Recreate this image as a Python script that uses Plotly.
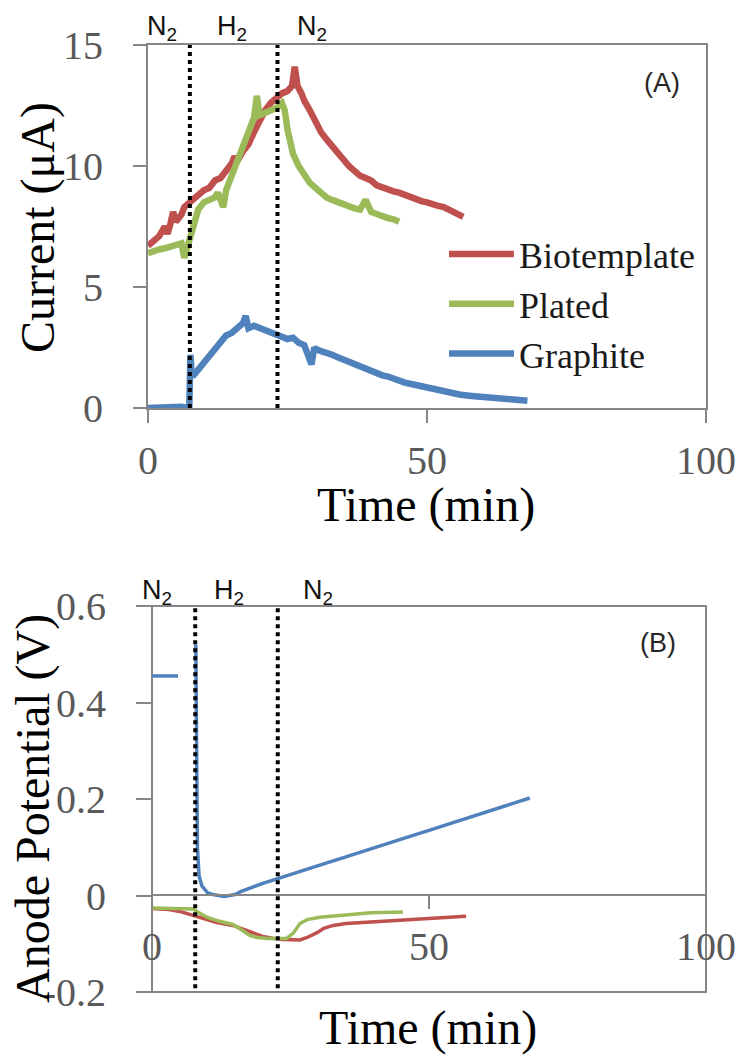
import plotly.graph_objects as go

W, H = 742, 1057

# ---------------- Panel A: current vs time ----------------
bio_t = [0, 1, 2, 3, 3.5, 4, 4.5, 5, 6, 6.5, 7.5, 9, 10, 11, 12, 13, 14, 15, 15.5, 16, 17, 18, 19, 20,
         21, 22, 23, 24, 25, 25.8, 26.3, 26.8, 27.5, 28, 29, 30, 31, 32, 33, 34, 35, 36, 37, 38, 39, 40,
         41, 42, 43, 44, 45, 46, 47, 48, 49, 50, 51, 52, 53, 54, 55, 56.5]
bio_i = [6.7, 6.9, 7.1, 7.5, 7.2, 7.6, 8.1, 7.7, 8.0, 8.3, 8.5, 8.8, 9.0, 9.1, 9.4, 9.5, 9.8, 10.1, 10.4, 10.2,
         10.6, 10.9, 11.4, 11.9, 12.3, 12.6, 12.8, 13.0, 13.1, 13.3, 14.1, 13.3, 13.0, 12.7, 12.3, 11.8, 11.4,
         11.1, 10.8, 10.5, 10.2, 10.0, 9.8, 9.6, 9.5, 9.4, 9.2, 9.1, 9.0, 8.95, 8.9, 8.8, 8.7, 8.6, 8.55, 8.5,
         8.4, 8.35, 8.3, 8.2, 8.1, 7.9]

pla_t = [0, 1, 2, 3, 4, 5, 6, 6.5, 7, 7.5, 8, 8.5, 9, 10, 11, 12, 12.5, 13, 13.5, 14, 15, 16, 17, 18, 19,
         19.5, 20, 21, 22, 23, 24, 24.5, 25, 25.5, 26, 27, 28, 29, 30, 31, 32, 33, 34, 35, 36, 37, 38, 39,
         40, 41, 42, 43, 44, 45]
pla_i = [6.4, 6.5, 6.55, 6.6, 6.65, 6.7, 6.8, 6.2, 6.6, 7.0, 7.5, 7.9, 8.2, 8.5, 8.6, 8.7, 8.9, 8.5, 8.3,
         9.0, 9.6, 10.2, 10.8, 11.5, 12.0, 12.9, 12.1, 12.2, 12.3, 12.4, 12.6, 12.3, 11.5, 10.9, 10.5, 10.0,
         9.6, 9.3, 9.1, 8.9, 8.7, 8.6, 8.5, 8.4, 8.3, 8.25, 8.2, 8.6, 8.1, 8.0, 7.9, 7.85, 7.8, 7.7]

gra_t = [0, 2, 4, 5, 6, 7.4, 7.6, 7.8, 8, 9, 10, 11, 12, 13, 14, 15, 16, 17, 17.5, 18, 19, 20, 21, 22, 23,
         24, 25, 26, 27, 28, 29.3, 29.8, 30, 31, 32, 33, 34, 35, 36, 37, 38, 39, 40, 41, 42, 43, 44, 45,
         46, 48, 50, 52, 54, 56, 58, 60, 62, 64, 66, 68]
gra_i = [0.0, 0.02, 0.05, 0.0, 0.05, 0.0, 2.2, 1.5, 1.3, 1.6, 1.9, 2.2, 2.5, 2.8, 3.0, 3.1, 3.3, 3.5, 3.8,
         3.3, 3.4, 3.3, 3.2, 3.1, 3.0, 2.9, 2.85, 2.9, 2.7, 2.6, 1.8, 2.5, 2.45, 2.35, 2.3, 2.2, 2.1, 2.0,
         1.9, 1.85, 1.75, 1.6, 1.55, 1.45, 1.35, 1.3, 1.2, 1.15, 1.05, 0.95, 0.85, 0.7, 0.65, 0.55, 0.5,
         0.45, 0.4, 0.35, 0.3, 0.3]

# ---------------- Panel B: anode potential vs time ----------------
gra_pt = [0, 4.7, None, 7.9, 8.0, 8.1, 8.2, 8.5, 9, 10, 11, 12, 13, 14, 15, 16, 18, 20, 22.7, 25, 30, 35,
          40, 45, 50, 55, 60, 65, 68.2]
gra_v = [0.455, 0.455, None, 0.52, 0.35, 0.2, 0.1, 0.04, 0.02, 0.006, 0.002, 0.0, -0.002, 0.0, 0.002,
         0.008, 0.017, 0.025, 0.035, 0.043, 0.062, 0.08, 0.099, 0.117, 0.135, 0.153, 0.172, 0.19, 0.202]

bio_pt = [0, 3, 5, 7.4, 9, 11.7, 14.6, 16, 18.2, 20, 22, 23.6, 26.7, 28, 29.8, 31, 32.7, 35, 39.5, 45, 50,
          56.7]
bio_v = [-0.027, -0.029, -0.033, -0.041, -0.048, -0.056, -0.062, -0.068, -0.079, -0.085, -0.089, -0.091,
         -0.092, -0.087, -0.077, -0.068, -0.062, -0.058, -0.055, -0.051, -0.048, -0.043]

pla_pt = [0, 3, 5, 7.4, 8.5, 9.9, 12, 14.6, 16, 17.7, 19, 20.7, 24.3, 25.5, 26.7, 28, 30.3, 35, 39.5, 45.3]
pla_v = [-0.026, -0.027, -0.027, -0.028, -0.036, -0.045, -0.053, -0.06, -0.07, -0.083, -0.087, -0.089,
         -0.089, -0.078, -0.058, -0.05, -0.045, -0.04, -0.036, -0.034]

switch_a = [7.5, 23.2]
switch_b = [7.8, 22.7]
gas_labels = ["N<sub>2</sub>", "H<sub>2</sub>", "N<sub>2</sub>"]

RED, GREEN, BLUE = "#C0504D", "#9BBB59", "#4F81BD"
AX = "#868686"
SERIF = "Liberation Serif, Times New Roman, serif"
SANS = "Liberation Sans, Arial, sans-serif"


def px(x):
    return x / W


def py(y):
    return 1 - y / H


fig = go.Figure()
for name, t, v, c in [("Biotemplate", bio_t, bio_i, RED), ("Plated", pla_t, pla_i, GREEN),
                      ("Graphite", gra_t, gra_i, BLUE)]:
    fig.add_trace(go.Scatter(x=t, y=v, mode="lines", name=name, line=dict(color=c, width=6.5),
                             xaxis="x", yaxis="y"))
for name, t, v, c in [("Biotemplate", bio_pt, bio_v, RED), ("Plated", pla_pt, pla_v, GREEN),
                      ("Graphite", gra_pt, gra_v, BLUE)]:
    fig.add_trace(go.Scatter(x=t, y=v, mode="lines", name=name, line=dict(color=c, width=3.5),
                             xaxis="x2", yaxis="y2", showlegend=False, connectgaps=False))

tickfont = dict(family=SERIF, size=40, color="#595959")
common = dict(showgrid=False, zeroline=False, ticks="outside", tickcolor=AX, tickwidth=2,
              tickfont=tickfont, automargin=False)

fig.update_layout(
    template="none",
    width=W, height=H, margin=dict(l=0, r=0, t=0, b=0, autoexpand=False),
    paper_bgcolor="white", plot_bgcolor="white",
    xaxis=dict(domain=[px(148), px(706)], range=[0, 100], tickvals=[0, 50, 100], ticktext=["0", "50", "100"],
               anchor="y", showline=True, mirror=True, linecolor=AX, linewidth=2, ticklen=13,
               ticklabelstandoff=3, **common),
    yaxis=dict(domain=[py(408), py(45)], range=[0, 15], tickvals=[0, 5, 10, 15],
               ticktext=["0", "5", "10", "15"], anchor="x", showline=True, mirror=True, linecolor=AX,
               linewidth=2, ticklen=13, ticklabelstandoff=22, **common),
    xaxis2=dict(domain=[px(152), px(706)], range=[0, 100], tickvals=[0, 50, 100],
                ticktext=["0", "50", "100"], anchor="free", position=py(895), showline=True,
                linecolor=AX, linewidth=2, ticklen=13, ticklabelstandoff=3, **common),
    yaxis2=dict(domain=[py(992), py(606)], range=[-0.2, 0.6], tickvals=[-0.2, 0, 0.2, 0.4, 0.6],
                ticktext=["-0.2", "0", "0.2", "0.4", "0.6"], anchor="x2", showline=False,
                ticklen=15, ticklabelstandoff=22, **common),
    legend=dict(x=px(444), y=py(224), xanchor="left", yanchor="top", bgcolor="rgba(0,0,0,0)",
                font=dict(family=SERIF, size=36, color="#1a1a1a"), itemwidth=65, tracegroupgap=0),
)

shapes = []
# panel B box
shapes.append(dict(type="rect", xref="x2 domain", yref="y2 domain", x0=0, x1=1, y0=0, y1=1,
                   line=dict(color=AX, width=2), layer="below"))
for t in switch_a:
    shapes.append(dict(type="line", xref="x", yref="y domain", x0=t, x1=t, y0=0, y1=1,
                       line=dict(color="black", width=4, dash="4px,4px")))
for t in switch_b:
    shapes.append(dict(type="line", xref="x2", yref="y2 domain", x0=t, x1=t, y0=0.01, y1=1,
                       line=dict(color="black", width=4, dash="4px,4px")))
fig.update_layout(shapes=shapes)


def note(x, y, text, font, angle=0):
    return dict(x=px(x), y=py(y), xref="paper", yref="paper", text=text, showarrow=False,
                xanchor="center", yanchor="middle", textangle=angle, font=font)


gas_font = dict(family=SANS, size=27, color="#111")
panel_font = dict(family=SANS, size=27, color="#262626")
title_font = dict(family=SERIF, size=48, color="black")

ann = []
for (x, y), txt in zip([(162, 28), (232, 28), (312, 28)], gas_labels):
    ann.append(note(x, y, txt, gas_font))
for (x, y), txt in zip([(157, 592), (229, 592), (318, 592)], gas_labels):
    ann.append(note(x, y, txt, gas_font))
ann.append(note(662, 83, "(A)", panel_font))
ann.append(note(658, 643, "(B)", panel_font))
ann.append(note(426, 505, "Time (min)", title_font))
ann.append(note(428, 1028, "Time (min)", title_font))
ann.append(note(38, 228, "Current (μA)", title_font, -90))
ann.append(note(33, 809, "Anode Potential (V)", title_font, -90))
fig.update_layout(annotations=ann)

fig.write_html("out.html")
